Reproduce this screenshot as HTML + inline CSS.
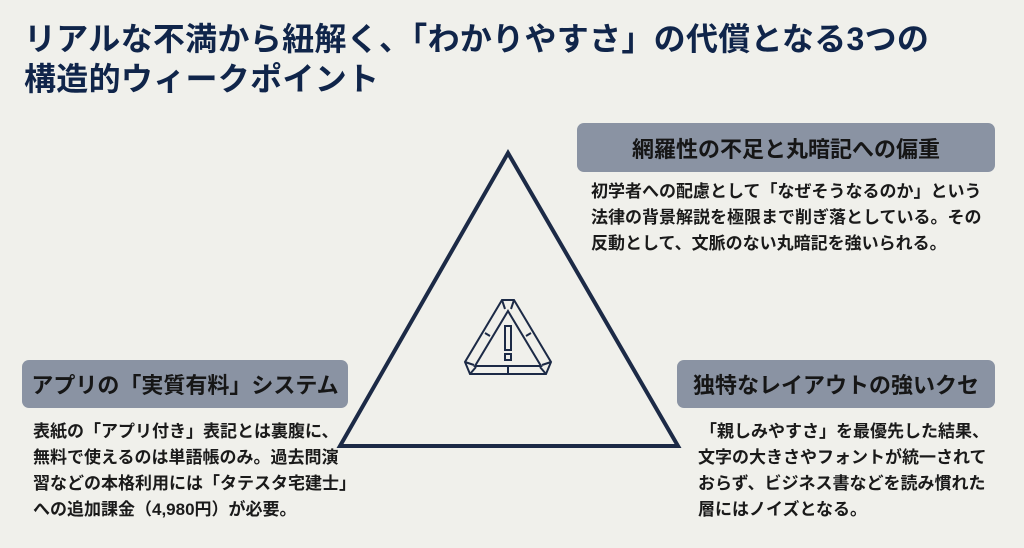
<!DOCTYPE html>
<html><head><meta charset="utf-8"><style>
html,body{margin:0;padding:0}
body{width:1024px;height:548px;background:#f0f0eb;position:relative;overflow:hidden;font-family:"Liberation Sans","Noto Sans CJK JP",sans-serif;}
.t{position:absolute;left:24px;font-size:32px;font-weight:bold;color:#10254a;white-space:nowrap;line-height:38px;letter-spacing:0.3px}
.box{position:absolute;background:#8a93a3;border-radius:7px;color:#161616;font-weight:bold;font-size:22px;display:flex;align-items:center;justify-content:center;white-space:nowrap}
.b{position:absolute;font-size:17px;font-weight:bold;color:#1a1a1a;line-height:26px;white-space:nowrap}
</style></head><body>
<div class="t" style="top:20px">リアルな不満から紐解く、「わかりやすさ」の代償となる3つの</div>
<div class="t" style="top:60px">構造的ウィークポイント</div>
<svg style="position:absolute;left:0;top:0" width="1024" height="548">
<polygon points="508,153 340,446 678,446" fill="none" stroke="#1c2a46" stroke-width="4" stroke-linejoin="miter"/>
<g fill="none" stroke="#1c2a46" stroke-width="2">
<polygon points="502,300 514,300 551,362 546,374 470,374 465,362"/>
<polygon points="508,311 541,366 475,366"/>
<line x1="502" y1="300" x2="505" y2="309"/><line x1="514" y1="300" x2="511" y2="309"/>
<line x1="465" y1="362" x2="474" y2="365"/><line x1="470" y1="374" x2="476" y2="367"/>
<line x1="551" y1="362" x2="542" y2="365"/><line x1="546" y1="374" x2="540" y2="367"/>
<line x1="508" y1="366" x2="508" y2="374"/>
<line x1="485" y1="333" x2="490" y2="336"/><line x1="531" y1="333" x2="526" y2="336"/>
<rect x="505" y="326" width="6" height="24"/><rect x="505" y="354" width="6" height="6"/>
</g>
</svg>
<div class="box" style="left:577px;top:123px;width:418px;height:49px">網羅性の不足と丸暗記への偏重</div>
<div class="b" style="left:591px;top:179px">初学者への配慮として「なぜそうなるのか」という</div>
<div class="b" style="left:591px;top:205px">法律の背景解説を極限まで削ぎ落としている。その</div>
<div class="b" style="left:591px;top:231px">反動として、文脈のない丸暗記を強いられる。</div>
<div class="box" style="left:22px;top:360px;width:326px;height:48px">アプリの「実質有料」システム</div>
<div class="b" style="left:33px;top:419px">表紙の「アプリ付き」表記とは裏腹に、</div>
<div class="b" style="left:33px;top:445px">無料で使えるのは単語帳のみ。過去問演</div>
<div class="b" style="left:33px;top:471px">習などの本格利用には「タテスタ宅建士」</div>
<div class="b" style="left:33px;top:497px">への追加課金（4,980円）が必要。</div>
<div class="box" style="left:677px;top:360px;width:318px;height:48px">独特なレイアウトの強いクセ</div>
<div class="b" style="left:700px;top:419px">「親しみやすさ」を最優先した結果、</div>
<div class="b" style="left:698px;top:445px">文字の大きさやフォントが統一されて</div>
<div class="b" style="left:698px;top:471px">おらず、ビジネス書などを読み慣れた</div>
<div class="b" style="left:698px;top:497px">層にはノイズとなる。</div>
</body></html>
